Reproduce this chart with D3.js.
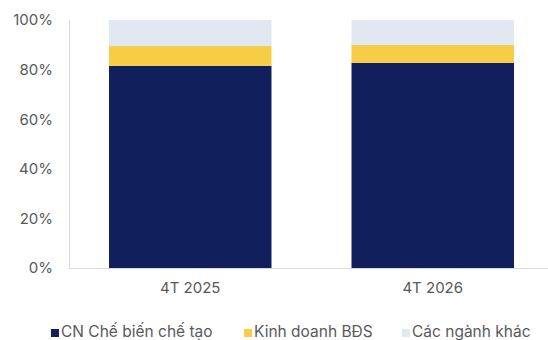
<!DOCTYPE html>
<html><head><meta charset="utf-8">
<script src="https://cdn.jsdelivr.net/npm/d3@7"></script>
<style>body{margin:0;background:#fff}svg{display:block;font-family:Inter,"Noto Sans",sans-serif}</style>
</head><body>
<svg id="c" width="548" height="340"></svg>
<script>
const categories = ["4T 2025", "4T 2026"];
const seriesNames = ["CN Chế biến chế tạo", "Kinh doanh BĐS", "Các ngành khác"];
const manufacturing = [81.5, 82.7];
const realEstate = [8.0, 7.2];
const others = [10.5, 10.1];
const yTicks = [0, 20, 40, 60, 80, 100];
const colors = ["#111F5C", "#F7CD46", "#E1E8F1"];

const svg = d3.select("#c");
const m = {l: 69, r: 0, t: 20, b: 72};
const W = 548, H = 340;
const x = d3.scaleBand().domain(categories).range([m.l, 554]).paddingInner(0.33).paddingOuter(0.165);
const y = d3.scaleLinear().domain([0, 100]).range([H - m.b, m.t]);

const rows = categories.map((c, i) => ({cat: c, s0: manufacturing[i], s1: realEstate[i], s2: others[i]}));
const stack = d3.stack().keys(["s0", "s1", "s2"])(rows);

svg.append("g").selectAll("g").data(stack).join("g")
  .attr("fill", (d, i) => colors[i])
  .selectAll("rect").data(d => d).join("rect")
  .attr("x", d => x(d.data.cat))
  .attr("width", x.bandwidth())
  .attr("y", d => y(Math.min(100, d[1])))
  .attr("height", d => y(d[0]) - y(Math.min(100, d[1])));

svg.append("line").attr("x1", m.l + 0.5).attr("x2", m.l + 0.5).attr("y1", y(100)).attr("y2", y(0))
  .attr("stroke", "#D9D9D9").attr("stroke-width", 1);
svg.append("line").attr("x1", m.l).attr("x2", 548).attr("y1", y(0) + 0.5).attr("y2", y(0) + 0.5)
  .attr("stroke", "#D9D9D9").attr("stroke-width", 1);

const yAxis = d3.axisLeft(y).tickValues(yTicks).tickFormat(d => d + "%").tickSize(0).tickPadding(16);
svg.append("g").attr("transform", `translate(${m.l},0)`).call(yAxis)
  .call(g => g.select(".domain").remove())
  .selectAll("text").attr("fill", "#595959").attr("font-size", 15).attr("font-family", "Inter, sans-serif");

const xAxis = d3.axisBottom(x).tickSize(0).tickPadding(14);
svg.append("g").attr("transform", `translate(0,${y(0)})`).call(xAxis)
  .call(g => g.select(".domain").remove())
  .selectAll("text").attr("fill", "#595959").attr("font-size", 15).attr("font-family", "Inter, sans-serif");

// legend
const legX = [51, 244, 402];
const leg = svg.append("g");
seriesNames.forEach((n, i) => {
  leg.append("rect").attr("x", legX[i]).attr("y", 329).attr("width", 8).attr("height", 8).attr("fill", colors[i]);
  leg.append("text").attr("x", legX[i] + 10).attr("y", 337).text(n)
    .attr("fill", "#595959").attr("font-size", 15.5).attr("font-family", "Inter, sans-serif");
});
</script>
</body></html>
